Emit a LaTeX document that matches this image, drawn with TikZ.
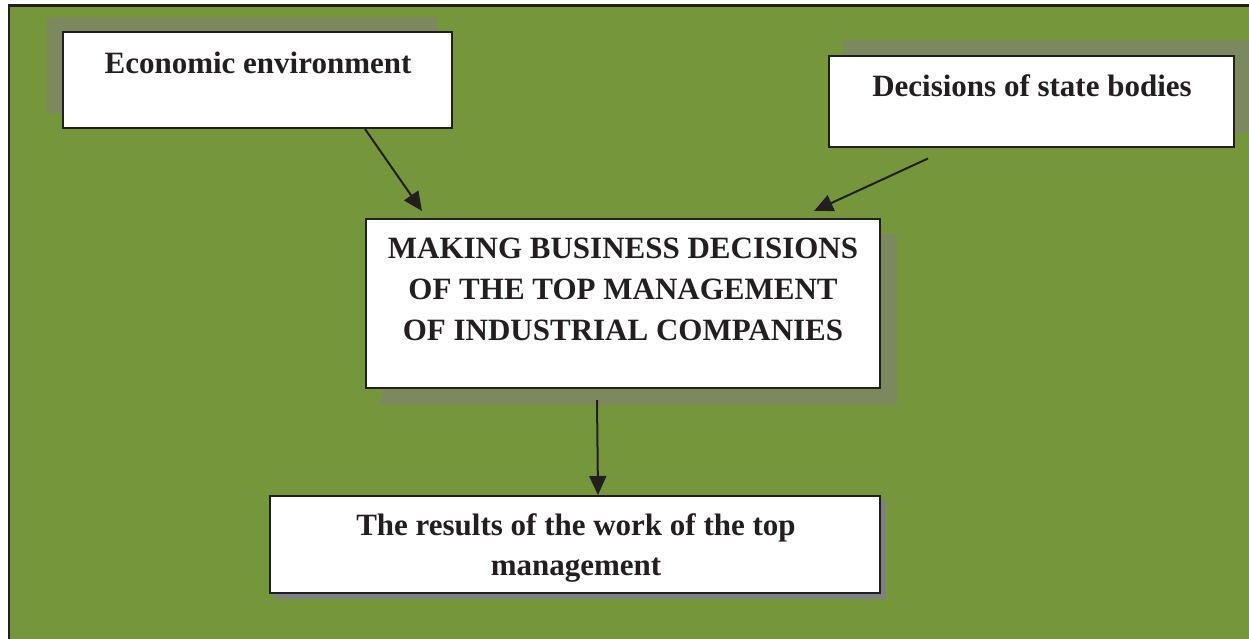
\documentclass[tikz,border=0pt]{standalone}
\usepackage{fontspec}
\setmainfont{Liberation Serif}
\usetikzlibrary{arrows.meta,calc}
\definecolor{bggreen}{RGB}{118,150,59}
\definecolor{shadowgreen}{RGB}{124,136,94}
\definecolor{shadowgray}{RGB}{128,128,128}
\definecolor{ink}{RGB}{35,31,32}
\tikzset{
  boxnode/.style={draw=ink, line width=2pt, fill=white, inner sep=0pt, rectangle},
  label31/.style={font=\fontsize{31}{40.8}\selectfont\bfseries, text=ink, inner sep=0pt, align=center},
  conn/.style={draw=ink, line width=2pt, -{Triangle[length=19pt,width=17pt]}}
}
\begin{document}
\begin{tikzpicture}[x=1pt,y=-1pt]
\useasboundingbox (0,0) rectangle (1249,639);
\begin{scope}
\clip (0,0) rectangle (1249,639);
\fill[white] (0,0) rectangle (1249,639);
\draw[draw=ink, line width=2.5pt, fill=bggreen] (9,5.5) rectangle (1270,660);
% shadows
\fill[shadowgreen] (47,17) rectangle (437,113);
\fill[shadowgreen] (843,40) rectangle (1260,133);
\fill[shadowgreen] (381,234) rectangle (897,405);
\fill[shadowgray] (275,500) rectangle (886,599);
\end{scope}
% boxes
\node[boxnode, minimum width=389pt, minimum height=96pt] (b1) at (257.5,80) {};
\node[boxnode, minimum width=405pt, minimum height=91pt] (b2) at (1031.5,102) {};
\node[boxnode, minimum width=514pt, minimum height=169pt] (b3) at (623,303.5) {};
\node[boxnode, minimum width=610pt, minimum height=97pt] (b4) at (575,544.5) {};
% texts
\node[label31, anchor=base] (t1) at (258,73.5) {Economic environment};
\node[label31, anchor=base] (t2) at (1032,97) {Decisions of state bodies};
\node[label31, anchor=north] (t3) at (623,238) {MAKING BUSINESS DECISIONS\\OF THE TOP MANAGEMENT\\OF INDUSTRIAL COMPANIES};
\node[label31, anchor=north] (t4) at (576,513) {The results of the work of the top\\management};
% connectors
\coordinate (a1s) at ($(b1.south west)+(303,0)$);
\coordinate (a1e) at ($(b3.north west)+(57,-7)$);
\coordinate (a2s) at ($(b2.south west)+(100,10)$);
\coordinate (a2e) at ($(b3.north west)+(449,-7)$);
\coordinate (a3s) at ($(b3.south west)+(232,11)$);
\coordinate (a3e) at ($(b4.north west)+(329,0)$);
\draw[conn] (a1s) -- (a1e);
\draw[conn] (a2s) -- (a2e);
\draw[conn] (a3s) -- (a3e);
\end{tikzpicture}
\end{document}
